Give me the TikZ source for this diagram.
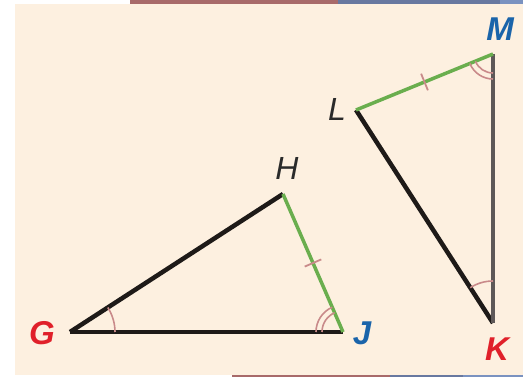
\documentclass[tikz,border=0pt]{standalone}
\usepackage{fontspec}
\setmainfont{Liberation Sans}
\usetikzlibrary{positioning,angles,calc}
\definecolor{cream}{HTML}{FDF0E0}
\definecolor{cside}{HTML}{1E1A18}
\definecolor{cgray}{HTML}{5E5858}
\definecolor{cgreen}{HTML}{6AAE4E}
\definecolor{carc}{HTML}{C98A8A}
\definecolor{cred}{HTML}{E0202A}
\definecolor{cblue}{HTML}{1A64AA}
\definecolor{cdark}{HTML}{2A2A2A}
\definecolor{barred}{HTML}{A86A6A}
\definecolor{barblue}{HTML}{6878A0}
\definecolor{barlight}{HTML}{7A92C0}
\tikzset{
  side/.style={draw=cside, line width=4.5pt},
  congside/.style={draw=cgreen, line width=3.5pt},
  hashmark/.style={sloped, inner sep=0pt, minimum width=0pt, minimum height=18pt,
                   draw=carc, line width=1.8pt},
  anglemark/.style={draw=carc, line width=1.6pt},
  vlabel/.style={font=\fontsize{33}{36}\selectfont\bfseries\itshape, inner sep=0pt},
  vlabelthin/.style={font=\fontsize{32}{35}\selectfont\itshape, inner sep=0pt, text=cdark}
}

\begin{document}
\begin{tikzpicture}[x=1pt,y=-1pt]
\useasboundingbox (0,0) rectangle (523,377);
% paper and the coloured rules at top and bottom
\fill[white] (0,0) rectangle (523,377);
\fill[cream] (15,4) rectangle (523,375);
\fill[barred] (130,0) rectangle (338,4);
\fill[barblue] (338,0) rectangle (500,4);
\fill[barlight] (500,0) rectangle (523,4);
\fill[barred] (232,375) rectangle (390,377);
\fill[barblue] (390,375) rectangle (463,377);
\fill[barlight] (463,375) rectangle (523,377);

% vertices
\coordinate (G) at (70,332);
\coordinate (J) at (343,332);
\coordinate (H) at (283,194);
\coordinate (L) at (356,110);
\coordinate (M) at (493,54);
\coordinate (K) at (493,323);

% triangle GHJ
\draw[side] (G) -- (H);
\draw[side] (G) -- (J);
\draw[congside] (H) -- node[hashmark]{} (J);

% triangle LMK
\draw[side] (L) -- (K);
\draw[side, draw=cgray] (M) -- (K);
\draw[congside] (L) -- node[hashmark]{} (M);

% angle marks
\pic[anglemark, angle radius=45pt] {angle=J--G--H};
\pic[anglemark, angle radius=21pt] {angle=H--J--G};
\pic[anglemark, angle radius=27pt] {angle=H--J--G};
\pic[anglemark, angle radius=19pt] {angle=L--M--K};
\pic[anglemark, angle radius=25pt] {angle=L--M--K};
\pic[anglemark, angle radius=42pt] {angle=M--K--L};

% labels
\node[vlabel, text=cred] (Glbl) at (42,333) {G};
\node[vlabel, text=cblue] (Jlbl) at (362,333) {J};
\node[vlabelthin] (Hlbl) at (287,168) {H};
\node[vlabelthin] (Llbl) at (337,109) {L};
\node[vlabel, text=cblue] (Mlbl) at (500,29) {M};
\node[vlabel, text=cred] (Klbl) at (497,349) {K};
\end{tikzpicture}
\end{document}
